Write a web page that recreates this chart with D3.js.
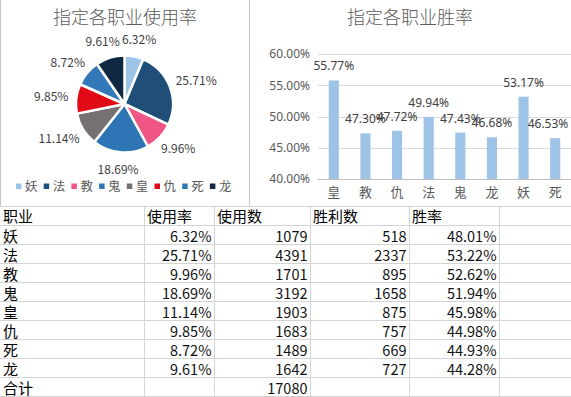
<!DOCTYPE html>
<html><head><meta charset="utf-8">
<script src="https://cdn.jsdelivr.net/npm/d3@7/dist/d3.min.js"></script>
<style>
html,body{margin:0;padding:0;background:#fff;}
svg text{font-family:"Noto Sans CJK SC","Noto Sans",sans-serif;}
</style></head>
<body>
<svg id="c" width="571" height="397"></svg>
<script>
// ---- data ----
const classes = ['妖','法','教','鬼','皇','仇','死','龙'];
const usageRate = [6.32, 25.71, 9.96, 18.69, 11.14, 9.85, 8.72, 9.61];
const usageCount = [1079, 4391, 1701, 3192, 1903, 1683, 1489, 1642];
const winCount = [518, 2337, 895, 1658, 875, 757, 669, 727];
const winRate = [48.01, 53.22, 52.62, 51.94, 45.98, 44.98, 44.93, 44.28];
const totalCount = 17080;
const pieColors = ['#9dc3e6','#1f4e79','#ef5585','#2e75b6','#767171','#e00b17','#3277b8','#0e2841'];
const barCats = ['皇','教','仇','法','鬼','龙','妖','死'];
const barValues = [55.77, 47.30, 47.72, 49.94, 47.43, 46.68, 53.17, 46.53];
const yTicks = [40, 45, 50, 55, 60];
const headers = ['职业','使用率','使用数','胜利数','胜率'];

const svg = d3.select('#c');
const pct = v => d3.format('.2f')(v) + '%';

// ---- table grid ----
const colEdges = [0, 144, 214, 310, 409, 499, 571];
const rowTop = 206, rowH = 19, nRows = 10;
const grid = svg.append('g');
for (let i = 0; i <= nRows; i++) {
  grid.append('line').attr('x1', 0).attr('x2', 571)
    .attr('y1', rowTop + i*rowH + 0.5).attr('y2', rowTop + i*rowH + 0.5)
    .attr('stroke', '#d4d4d4');
}
colEdges.slice(1, 6).forEach(x => {
  grid.append('line').attr('x1', x + 0.5).attr('x2', x + 0.5)
    .attr('y1', rowTop).attr('y2', 397).attr('stroke', '#d4d4d4');
});
const tbl = svg.append('g').style('font-size', '15px').attr('fill', '#000');
headers.forEach((h, j) => {
  tbl.append('text').attr('x', colEdges[j] + 3).attr('y', rowTop + 16).text(h);
});
classes.forEach((c, i) => {
  const y = rowTop + (i+1)*rowH + 16.5;
  tbl.append('text').attr('x', 3).attr('y', y).text(c);
  const vals = [pct(usageRate[i]), usageCount[i], winCount[i], pct(winRate[i])];
  vals.forEach((v, j) => {
    tbl.append('text').attr('x', colEdges[j+2] - 2.5).attr('y', y)
      .attr('text-anchor', 'end').style('font-size', '14.5px').attr('fill', '#111').text(v);
  });
});
tbl.append('text').attr('x', 3).attr('y', rowTop + 9*rowH + 16.5).text('合计');
tbl.append('text').attr('x', colEdges[3] - 2.5).attr('y', rowTop + 9*rowH + 16.5)
  .attr('text-anchor', 'end').style('font-size', '14.5px').attr('fill', '#111').text(totalCount);

// ---- chart backgrounds / borders ----
svg.append('rect').attr('x', 0).attr('y', 0).attr('width', 571).attr('height', 205).attr('fill', '#fff');
svg.append('line').attr('x1', 0.5).attr('x2', 0.5).attr('y1', 0).attr('y2', 206).attr('stroke', '#c8c8c8');
svg.append('line').attr('x1', 249.5).attr('x2', 249.5).attr('y1', 0).attr('y2', 206).attr('stroke', '#c8c8c8');

// ---- pie chart ----
const cx = 124.5, cy = 104, r = 48.5;
svg.append('text').attr('x', 125).attr('y', 24).attr('text-anchor', 'middle')
  .style('font-size', '18px').style('font-weight', 300).attr('fill', '#595959').text('指定各职业使用率');
const pie = d3.pie().sort(null).value(d => d)(usageRate);
const arc = d3.arc().innerRadius(0).outerRadius(r);
const pg = svg.append('g').attr('transform', `translate(${cx},${cy})`);
pg.selectAll('path').data(pie).join('path')
  .attr('d', arc).attr('fill', (d, i) => pieColors[i])
  .attr('stroke', '#fff').attr('stroke-width', 2.5).attr('stroke-linejoin', 'round');
pie.forEach((d, i) => {
  const a = (d.startAngle + d.endAngle) / 2;
  const label = pct(usageRate[i]);
  const w = label.length * 6.1, h = 14;
  const px = (r + 10) * Math.sin(a), py = -(r + 10) * Math.cos(a);
  const lx = px + (w/2) * Math.sin(a), ly = py - (h/2) * Math.cos(a);
  pg.append('text').attr('x', lx).attr('y', ly + 4.5).attr('text-anchor', 'middle')
    .style('font-size', '12px').attr('fill', '#404040').text(label);
});
// legend
const lg = svg.append('g');
classes.forEach((c, i) => {
  const x = 16 + i * 27.7;
  lg.append('rect').attr('x', x).attr('y', 183.5).attr('width', 5.5).attr('height', 5.5).attr('fill', pieColors[i]);
  lg.append('text').attr('x', x + 9).attr('y', 191).style('font-size', '12.5px').attr('fill', '#595959').text(c);
});

// ---- bar chart ----
svg.append('text').attr('x', 410).attr('y', 24).attr('text-anchor', 'middle')
  .style('font-size', '18px').style('font-weight', 300).attr('fill', '#595959').text('指定各职业胜率');
const y = d3.scaleLinear().domain([40, 60]).range([179, 54]);
const x = d3.scaleBand().domain(barCats).range([318, 571]).paddingInner(0.68).paddingOuter(0.34);
const bg = svg.append('g');
yTicks.forEach(t => {
  bg.append('line').attr('x1', 318).attr('x2', 571)
    .attr('y1', Math.round(y(t)) + 0.5).attr('y2', Math.round(y(t)) + 0.5)
    .attr('stroke', t === 40 ? '#bfbfbf' : '#d9d9d9');
});
const yAxis = d3.axisLeft(y).tickValues(yTicks).tickSize(0).tickPadding(0).tickFormat(pct);
const ya = bg.append('g').attr('transform', 'translate(310,0)').call(yAxis);
ya.select('.domain').remove();
ya.selectAll('text').style('font-size', '12px').attr('fill', '#595959')
  .style('font-family', '"Noto Sans","Noto Sans CJK SC",sans-serif');
bg.selectAll('rect.bar').data(barValues).join('rect').attr('class', 'bar')
  .attr('x', (d, i) => x(barCats[i])).attr('width', x.bandwidth())
  .attr('y', d => y(d)).attr('height', d => y(40) - y(d)).attr('fill', '#9dc3e6');
bg.selectAll('text.bl').data(barValues).join('text').attr('class', 'bl')
  .attr('x', (d, i) => Math.min(x(barCats[i]) + x.bandwidth()/2, 548)).attr('y', d => y(d) - 10)
  .attr('text-anchor', 'middle').style('font-size', '12px').attr('fill', '#404040')
  .style('font-family', '"Noto Sans","Noto Sans CJK SC",sans-serif').text(pct);
const xAxis = d3.axisBottom(x).tickSize(0).tickPadding(0);
const xa = bg.append('g').attr('transform', 'translate(0,188)').call(xAxis);
xa.select('.domain').remove();
xa.selectAll('text').style('font-size', '13px').attr('fill', '#595959')
  .style('font-family', '"Noto Sans CJK SC",sans-serif');
</script>
</body></html>
